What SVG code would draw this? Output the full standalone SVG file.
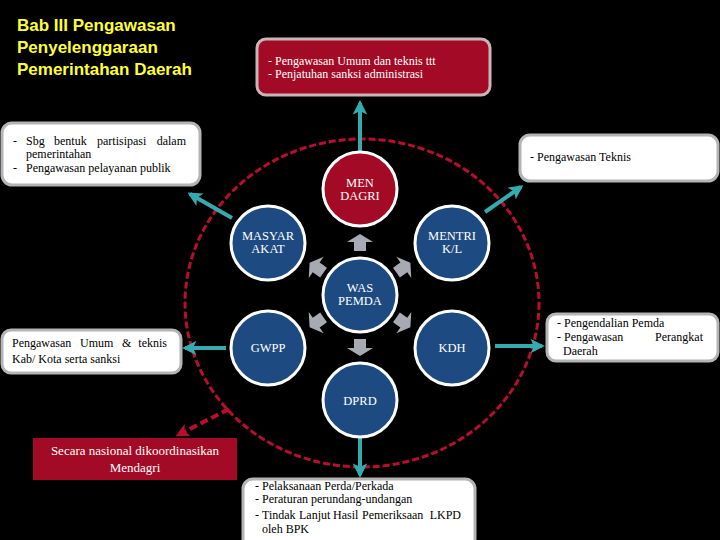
<svg xmlns="http://www.w3.org/2000/svg" width="720" height="540" viewBox="0 0 720 540">
<style>
.bg{fill:#000}
.wbox{fill:#fff;stroke:#b4b4b4;stroke-width:3}
.rbox{fill:#a30a25;stroke:#c9b4b8;stroke-width:3}
.node{fill:#1d4a80;stroke:#fff;stroke-width:3}
.red{fill:#a30a25;stroke:#fff;stroke-width:3}
.t{font-family:'Liberation Serif','Times New Roman','DejaVu Serif',serif;font-size:12px;fill:#000}
.tw{font-family:'Liberation Serif','Times New Roman','DejaVu Serif',serif;font-size:12px;fill:#fff}
.nt{font-family:'Liberation Serif','Times New Roman','DejaVu Serif',serif;font-size:12.5px;fill:#fff;text-anchor:middle}
.title{font-family:'Liberation Sans',Arial,sans-serif;font-weight:bold;font-size:17px;fill:#ffff33}
.conn{stroke:#36abad;stroke-width:4;fill:none}
.garr{fill:#a7aab3}
</style>
<defs>
<marker id="ah" viewBox="0 0 10 10" refX="8" refY="5" markerWidth="3.6" markerHeight="3.6" orient="auto" markerUnits="strokeWidth">
<path d="M0,0 L10,5 L0,10 L2.5,5 z" fill="#36abad"/>
</marker>
<marker id="ahr" viewBox="0 0 10 10" refX="8" refY="5" markerWidth="3.4" markerHeight="3.4" orient="auto" markerUnits="strokeWidth">
<path d="M0,0 L10,5 L0,10 L2.5,5 z" fill="#b8102c"/>
</marker>
<path id="ga" d="M0,-9 L13,-1 L6,-1 L6,8 L-6,8 L-6,-1 L-13,-1 z"/>
</defs>
<rect class="bg" x="0" y="0" width="720" height="540"/>

<g id="title">
<text class="title" x="17" y="31">Bab III Pengawasan</text>
<text class="title" x="17" y="53">Penyelenggaraan</text>
<text class="title" x="17" y="75">Pemerintahan Daerah</text>
</g>

<ellipse cx="362" cy="303" rx="177" ry="164" fill="none" stroke="#b8102c" stroke-width="3" stroke-dasharray="7,3"/>

<g id="connectors">
<line class="conn" x1="360" y1="152" x2="360" y2="103" marker-end="url(#ah)"/>
<line class="conn" x1="232" y1="218" x2="190" y2="194" marker-end="url(#ah)"/>
<line class="conn" x1="485" y1="212" x2="521" y2="187" marker-end="url(#ah)"/>
<line class="conn" x1="226" y1="348" x2="185" y2="348" marker-end="url(#ah)"/>
<line class="conn" x1="495" y1="346" x2="542" y2="346" marker-end="url(#ah)"/>
<line class="conn" x1="360" y1="438" x2="360" y2="475" marker-end="url(#ah)"/>
<line x1="229" y1="409" x2="178" y2="435" stroke="#b8102c" stroke-width="4" stroke-dasharray="8,4" marker-end="url(#ahr)"/>
<use href="#ga" class="garr" transform="translate(360,243)"/>
<use href="#ga" class="garr" transform="translate(360,347) rotate(180)"/>
<use href="#ga" class="garr" transform="translate(317,268) rotate(-55)"/>
<use href="#ga" class="garr" transform="translate(403,268) rotate(55)"/>
<use href="#ga" class="garr" transform="translate(317,322) rotate(-125)"/>
<use href="#ga" class="garr" transform="translate(403,322) rotate(125)"/>
</g>

<g id="box-top">
<rect class="rbox" x="257" y="39" width="233" height="56" rx="9"/>
<text class="tw" x="268" y="65">- Pengawasan Umum dan teknis ttt</text>
<text class="tw" x="268" y="78">- Penjatuhan sanksi administrasi</text>
</g>

<g id="box-left-top">
<rect class="wbox" x="2" y="123" width="198" height="62" rx="10"/>
<text class="t" y="145"><tspan x="13">-</tspan><tspan x="26">Sbg</tspan><tspan x="54">bentuk</tspan><tspan x="97">partisipasi</tspan><tspan x="186" text-anchor="end">dalam</tspan></text>
<text class="t" x="26" y="158">pemerintahan</text>
<text class="t" y="172"><tspan x="13">-</tspan><tspan x="26">Pengawasan pelayanan publik</tspan></text>
</g>

<g id="box-right-top">
<rect class="wbox" x="520" y="135" width="198" height="46" rx="10"/>
<text class="t" x="530" y="161">- Pengawasan Teknis</text>
</g>

<g id="box-left-mid">
<rect class="wbox" x="2" y="330" width="179" height="43" rx="9"/>
<text class="t" y="347"><tspan x="12">Pengawasan</tspan><tspan x="80">Umum</tspan><tspan x="122">&amp;</tspan><tspan x="167" text-anchor="end">teknis</tspan></text>
<text class="t" x="12" y="363">Kab/ Kota serta sanksi</text>
</g>

<g id="box-right-mid">
<rect class="wbox" x="547" y="314" width="171" height="47" rx="9"/>
<text class="t" x="557" y="327">- Pengendalian Pemda</text>
<text class="t" y="341"><tspan x="557">- Pengawasan</tspan><tspan x="703" text-anchor="end">Perangkat</tspan></text>
<text class="t" x="563" y="355">Daerah</text>
</g>

<g id="box-bottom">
<rect class="wbox" x="243" y="479" width="232" height="70" rx="10"/>
<text class="t" x="255" y="490">- Pelaksanaan Perda/Perkada</text>
<text class="t" x="255" y="503">- Peraturan perundang-undangan</text>
<text class="t" y="519"><tspan x="255">-</tspan><tspan x="262">Tindak</tspan><tspan x="299">Lanjut</tspan><tspan x="333">Hasil</tspan><tspan x="362">Pemeriksaan</tspan><tspan x="461" text-anchor="end">LKPD</tspan></text>
<text class="t" x="262" y="533">oleh BPK</text>
</g>

<g id="box-national">
<rect x="33" y="438" width="204" height="42" fill="#a30a25"/>
<text class="nt" x="135" y="455" style="font-size:13px">Secara nasional dikoordinasikan</text>
<text class="nt" x="135" y="472" style="font-size:13px">Mendagri</text>
</g>

<g id="node-mendagri">
<circle class="red" cx="360" cy="189" r="37"/>
<text class="nt" x="360" y="187">MEN</text>
<text class="nt" x="360" y="200">DAGRI</text>
</g>
<g id="node-masyarakat">
<circle class="node" cx="268" cy="243" r="37"/>
<text class="nt" x="268" y="240">MASYAR</text>
<text class="nt" x="268" y="253">AKAT</text>
</g>
<g id="node-mentri">
<circle class="node" cx="452" cy="243" r="37"/>
<text class="nt" x="452" y="240">MENTRI</text>
<text class="nt" x="452" y="253">K/L</text>
</g>
<g id="node-waspemda">
<circle class="node" cx="360" cy="295" r="37"/>
<text class="nt" x="360" y="292">WAS</text>
<text class="nt" x="360" y="305">PEMDA</text>
</g>
<g id="node-gwpp">
<circle class="node" cx="268" cy="348" r="37"/>
<text class="nt" x="268" y="352">GWPP</text>
</g>
<g id="node-kdh">
<circle class="node" cx="452" cy="348" r="37"/>
<text class="nt" x="452" y="352">KDH</text>
</g>
<g id="node-dprd">
<circle class="node" cx="360" cy="400" r="37"/>
<text class="nt" x="360" y="405">DPRD</text>
</g>
</svg>
